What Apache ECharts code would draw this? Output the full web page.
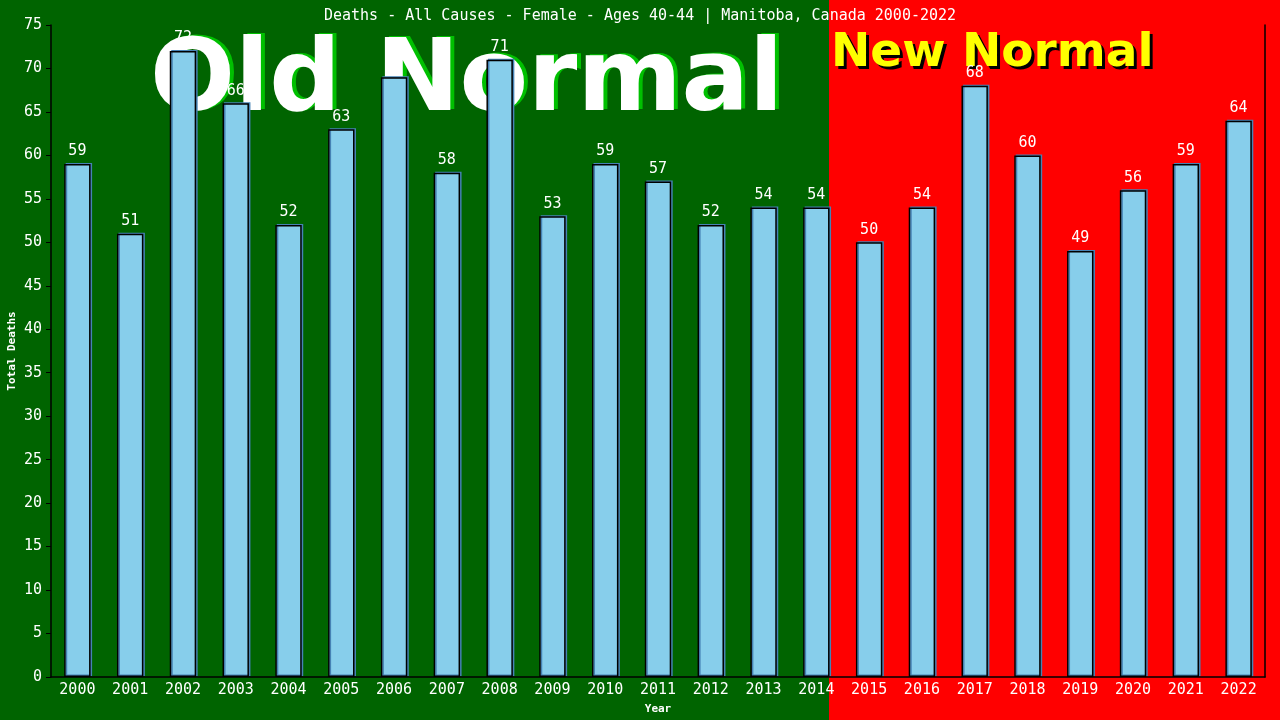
<!DOCTYPE html>
<html><head><meta charset="utf-8">
<script src="https://cdn.jsdelivr.net/npm/echarts@6/dist/echarts.min.js"></script>
<style>html,body{margin:0;padding:0;background:#006400;}#c{width:1280px;height:720px;}</style>
</head><body><div id="c"></div>
<script>
const years = ['2000','2001','2002','2003','2004','2005','2006','2007','2008','2009','2010','2011','2012','2013','2014','2015','2016','2017','2018','2019','2020','2021','2022'];
const deaths = [59,51,72,66,52,63,69,58,71,53,59,57,52,54,54,50,54,68,60,49,56,59,64];
const yTicks = [0,5,10,15,20,25,30,35,40,45,50,55,60,65,70,75];
const titleText = 'Deaths - All Causes - Female - Ages 40-44 | Manitoba, Canada 2000-2022';
const mono = '"DejaVu Sans Mono", monospace';
const fs = 15;

const chart = echarts.init(document.getElementById('c'));
chart.setOption({
  backgroundColor: '#006400',
  animation: false,
  title: {text: titleText, left: 'center', top: 4, textStyle: {color: '#fff', fontFamily: mono, fontSize: fs, fontWeight: 'normal'}},
  grid: {left: 51, right: 15, top: 25, bottom: 43, containLabel: false, outerBoundsMode: 'none'},
  graphic: [
    {type: 'rect', z: -10, silent: true, shape: {x: 829, y: 0, width: 460, height: 720}, style: {fill: '#ff0000'}},
    {type: 'text', z: -6, left: 154, top: 33, style: {text: 'Old Normal', font: 'bold 100px "DejaVu Sans"', fill: '#00c000'}},
    {type: 'text', z: -5, left: 150, top: 34, style: {text: 'Old Normal', font: 'bold 100px "DejaVu Sans"', fill: '#ffffff'}},
    {type: 'text', z: -6, left: 834, top: 33, style: {text: 'New Normal', font: 'bold 47px "DejaVu Sans"', fill: '#000000'}},
    {type: 'text', z: -5, left: 831, top: 30, style: {text: 'New Normal', font: 'bold 47px "DejaVu Sans"', fill: '#ffff00'}}
  ],
  xAxis: {
    type: 'category', data: years, name: 'Year', nameLocation: 'middle', nameGap: 27,
    nameTextStyle: {color: '#fff', fontFamily: mono, fontSize: 11, fontWeight: 'bold'},
    axisLine: {lineStyle: {color: '#000', width: 1.5}}, axisTick: {show: false},
    axisLabel: {color: '#fff', fontFamily: mono, fontSize: fs, margin: 6}
  },
  yAxis: [{
    type: 'value', min: 0, max: 75, interval: 5, name: 'Total Deaths', nameLocation: 'middle', nameGap: 33, nameRotate: 90,
    nameMoveOverlap: false,
    nameTextStyle: {color: '#fff', fontFamily: mono, fontSize: 11, fontWeight: 'bold'},
    axisLine: {show: true, lineStyle: {color: '#000', width: 1.5}}, axisTick: {show: true, length: 5, lineStyle: {color: '#000'}},
    axisLabel: {color: '#fff', fontFamily: mono, fontSize: fs, margin: 9, formatter: v => yTicks.includes(v) ? String(v) : ''},
    splitLine: {show: false}
  }, {
    type: 'value', min: 0, max: 75, interval: 5, position: 'right',
    axisLine: {show: true, lineStyle: {color: '#000', width: 1.5}}, axisTick: {show: false}, axisLabel: {show: false}, splitLine: {show: false}
  }],
  series: [{
    type: 'bar', data: deaths, barWidth: '50%', z: 2,
    itemStyle: {color: '#87ceeb', borderColor: '#000', borderWidth: 1.5, shadowColor: '#4682b4', shadowOffsetX: 1.5, shadowOffsetY: -1, shadowBlur: 0},
    label: {show: true, position: 'top', color: '#fff', fontFamily: mono, fontSize: fs, distance: 5}
  }]
});
</script></body></html>
